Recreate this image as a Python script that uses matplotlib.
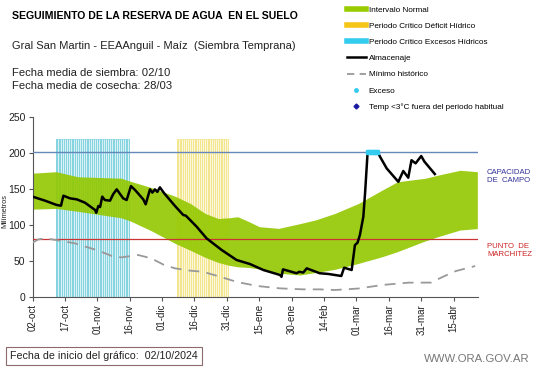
import matplotlib
matplotlib.use("Agg")
import matplotlib.pyplot as plt
from matplotlib.lines import Line2D
import numpy as np

# ---------------- data (days counted from 02-oct-2024) ----------------
tick_days = [0, 15, 30, 45, 60, 75, 90, 105, 120, 135, 150, 165, 180, 195]
tick_labels = ["02-oct", "17-oct", "01-nov", "16-nov", "01-dic", "16-dic", "31-dic",
               "15-ene", "30-ene", "14-feb", "01-mar", "16-mar", "31-mar", "15-abr"]

band_days = [0, 11, 21, 41, 45, 55, 66, 73, 80, 86, 91, 95, 100, 105, 114, 124, 131,
             140, 151, 162, 169, 182, 188, 198, 206]
band_upper = [172, 174, 167, 165, 161, 152, 140, 130, 116, 109, 110, 111.5, 105, 97.7, 95.3, 102, 107,
              116, 130, 148.6, 160, 165, 169.4, 176, 174]
band_lower = [122, 123, 119, 110, 106, 92, 74.5, 65, 55, 48, 44, 42, 41, 39, 33, 30.6, 34,
              38.4, 46.7, 56, 63, 78, 84, 93, 95]

alm_days = [0, 5.8, 11.2, 13.2, 14.3, 17.4, 20.5, 24.3, 29, 29.5, 30.5, 31.3, 32.3, 33.5, 35.9,
            37.4, 39, 42, 43.6, 45.6, 47.5, 51.3, 52.4, 54.4, 55.5, 56.7, 57.8, 59, 61, 66,
            69.8, 71, 76, 80.6, 87.6, 94.5, 100.7, 106.9, 114.6, 115.3, 116, 122.3, 123.5,
            125.4, 127, 133, 137, 143, 144.3, 147.8, 149.3, 150.5, 151.6, 153.2, 154, 155.2,
            159.8, 160.9, 164, 169.4, 171.7, 174, 175.5, 177.4, 180, 181.5, 186.3]
alm_vals = [139.4, 133.8, 127.8, 126.8, 140.7, 137, 135.6, 131, 120.8, 117, 126.4, 125, 139.4, 134.7, 133.8,
            143, 149.5, 137, 134.7, 154, 148.6, 135.6, 128.7, 149.5, 145, 149.5, 146, 152.3, 144, 126.4,
            113.9, 113, 97.7, 81.5, 65.3, 51.4, 45.8, 37.5, 30.6, 28, 38.4, 33, 35,
            34, 39.8, 33, 32, 29.2, 40.7, 37.5, 72, 75.4, 86, 111.5, 144, 202,
            202, 195, 178.7, 160, 175, 165.7, 190, 185.6, 195.8, 188, 170.8]

min_days = [0, 2.7, 6, 11.2, 19.7, 30.5, 36.7, 41, 49, 55, 61, 66, 73, 79, 87, 94.5, 104,
            114.6, 125.4, 133, 140, 151, 162, 174, 184.5, 190, 196, 205]
min_vals = [75.4, 80, 81.5, 79, 74.5, 64.4, 57, 55, 58.3, 53.7, 44.4, 39.8, 36.6, 35, 28, 21, 15.3,
            12, 10.6, 10.6, 9.7, 11.8, 16.7, 19.9, 20, 28, 36, 43]

exceso_days = [155.5, 156.5, 157.5, 158.5, 159.5]
exceso_vals = [202, 202, 202, 202, 202]

capacidad_campo = 202
punto_marchitez = 80

cyan_period = (11, 45)     # Periodo critico excesos hidricos
yellow_period = (67, 91)   # Periodo critico deficit hidrico
period_top = 220

# ---------------- figure ----------------
plt.rcParams['font.family'] = ['Liberation Sans', 'DejaVu Sans']
fig = plt.figure(figsize=(5.41, 3.68), dpi=100)
ax = fig.add_axes([32.5 / 541, 71 / 368, (478 - 32.5) / 541, 180 / 368])

# critical period stripes (daily bars separated by thin white lines)
for (p0, p1), col in [(cyan_period, '#86d4e0'), (yellow_period, '#f4e68e')]:
    d = np.arange(p0, p1)
    ax.bar(d + 0.5, [period_top] * len(d), width=1.0, color=col, linewidth=0, zorder=1)
    ax.vlines(np.arange(p0 + 1, p1), 0, period_top, color='white', lw=0.5, zorder=1.5)

# normal band
ax.fill_between(band_days, band_lower, band_upper, color='#94c800', alpha=0.9, linewidth=0, zorder=2)

# reference lines
ax.axhline(capacidad_campo, color='#6688bb', lw=1.0, zorder=3)
ax.axhline(punto_marchitez, color='#cc3333', lw=0.9, zorder=3)

# minimum historic
ax.plot(min_days, min_vals, color='#999999', lw=1.3, dashes=(6, 4), zorder=4)
# storage
ax.plot(alm_days, alm_vals, color='black', lw=1.8, zorder=5)
# exceso
ax.plot(exceso_days, exceso_vals, color='#33ccee', lw=0, marker='s', ms=3.2, zorder=6)

ax.set_xlim(0, 206.3)
ax.set_ylim(0, 250)
ax.set_yticks([0, 50, 100, 150, 200, 250])
ax.set_xticks(tick_days)
ax.set_xticklabels(tick_labels, rotation=90, fontsize=7, color='#222222')
ax.tick_params(axis='y', labelsize=7.5, length=3, color='#555555', labelcolor='#222222', pad=2)
ax.tick_params(axis='x', length=3, color='#555555', pad=2)
for s in ['top', 'right']:
    ax.spines[s].set_visible(False)
for s in ['left', 'bottom']:
    ax.spines[s].set_color('#555555')
    ax.spines[s].set_linewidth(0.8)
fig.text(1 / 541, 1 - 211 / 368, 'Milímetros', fontsize=5.3, rotation=90,
         va='center', ha='left', color='#222222')

# right labels
fig.text(487 / 541, 1 - 176 / 368, 'CAPACIDAD\nDE  CAMPO', color='#333399', fontsize=5.6,
         va='center', ha='left', linespacing=1.2)
fig.text(487 / 541, 1 - 250 / 368, 'PUNTO  DE\nMARCHITEZ', color='#cc2222', fontsize=5.6,
         va='center', ha='left', linespacing=1.2)

# titles
fig.text(12 / 541, 1 - 16 / 368, 'SEGUIMIENTO DE LA RESERVA DE AGUA  EN EL SUELO',
         fontsize=7.6, fontweight='bold', va='center', ha='left')
fig.text(12 / 541, 1 - 46 / 368, 'Gral San Martin - EEAAnguil - Maíz  (Siembra Temprana)',
         fontsize=8.0, va='center', ha='left', color='#222222')
fig.text(12 / 541, 1 - 73 / 368, 'Fecha media de siembra: 02/10', fontsize=8.1,
         va='center', ha='left', color='#222222')
fig.text(12 / 541, 1 - 86 / 368, 'Fecha media de cosecha: 28/03', fontsize=8.1,
         va='center', ha='left', color='#222222')

# legend
handles = [
    Line2D([], [], color='#99cc00', lw=4),
    Line2D([], [], color='#f5c518', lw=4),
    Line2D([], [], color='#33ccee', lw=4),
    Line2D([], [], color='black', lw=1.8),
    Line2D([], [], color='#999999', lw=1.3, dashes=(4, 3)),
    Line2D([], [], color='#33ccee', lw=0, marker='o', ms=2.5),
    Line2D([], [], color='#1a1aa0', lw=0, marker='D', ms=2.5),
]
labels = ['Intervalo Normal', 'Periodo Crítico Déficit Hídrico', 'Periodo Crítico Excesos Hídricos',
          'Almacenaje', 'Mínimo histórico', 'Exceso', 'Temp <3°C fuera del periodo habitual']
fig.legend(handles, labels, loc='upper left', bbox_to_anchor=(347 / 541, 1 - 6 / 368),
           frameon=False, fontsize=5.9, handlelength=2.3, handletextpad=0.35,
           labelspacing=1.03, borderaxespad=0, borderpad=0)

# bottom box
fig.text(10 / 541, 1 - 356 / 368, 'Fecha de inicio del gráfico:  02/10/2024', fontsize=7.7,
         va='center', ha='left', color='#222222',
         bbox=dict(boxstyle='square,pad=0.42', fc='white', ec='#8a6a6a', lw=0.8))
fig.text(530 / 541, 1 - 359 / 368, 'WWW.ORA.GOV.AR', fontsize=8.2, va='center', ha='right',
         color='#777777')

fig.savefig('out.png', dpi=100)
